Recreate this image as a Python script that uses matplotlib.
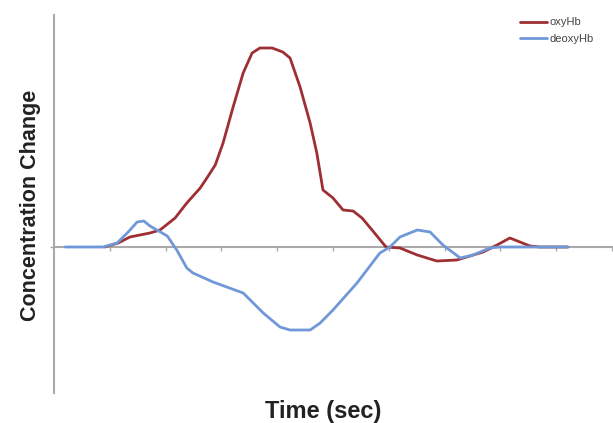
import matplotlib
matplotlib.use("Agg")
import matplotlib.pyplot as plt

plt.rcParams["font.family"] = ["Liberation Sans", "DejaVu Sans"]

# oxyHb trace (time, concentration change, arbitrary units)
oxy_t = [0.91, 1.15, 1.36, 1.72, 1.90, 2.17, 2.38, 2.62, 2.74, 2.89, 3.03, 3.21,
         3.39, 3.55, 3.69, 3.91, 4.10, 4.23, 4.41, 4.59, 4.71, 4.82, 5.00, 5.18,
         5.36, 5.52, 5.70, 5.95, 6.20, 6.51, 6.86, 7.22, 7.69, 7.94, 8.17, 8.53,
         8.71, 9.21]
oxy_v = [0, 4, 10, 14, 17, 29, 44, 59, 69, 82, 104, 140,
         174, 194, 199, 199, 195, 189, 160, 124, 94, 57, 49, 37,
         36, 29, 17, 0, -1, -8, -14, -13, -5, 2, 9, 1,
         0, 0]

# deoxyHb trace
deoxy_t = [0.20, 0.88, 1.13, 1.33, 1.49, 1.61, 1.72, 2.03, 2.20, 2.38, 2.49, 2.85,
           3.39, 3.75, 4.05, 4.23, 4.59, 4.77, 5.00, 5.43, 5.84, 6.02, 6.20, 6.51,
           6.74, 6.97, 7.28, 7.51, 7.81, 7.99, 9.21]
deoxy_v = [0, 0, 4, 15, 25, 26, 21, 11, -3, -21, -26, -35,
           -46, -66, -80, -83, -83, -76, -63, -36, -6, 0, 10, 17,
           15, 2, -11, -8, -1, 0, 0]

xticks = list(range(1, 11))

fig = plt.figure(figsize=(6.13, 4.23), dpi=100)
ax = fig.add_axes([54 / 613, 30 / 423, 558 / 613, 378 / 423])

ax.plot(oxy_t, oxy_v, color="#9e2f33", lw=2.0, label="oxyHb", zorder=3,
        solid_joinstyle="round", solid_capstyle="round")
ax.plot(deoxy_t, deoxy_v, color="#7098d8", lw=2.0, label="deoxyHb", zorder=3,
        solid_joinstyle="round", solid_capstyle="round")

ax.set_xlim(0, 10)
ax.set_ylim(-146, 232)

for s in ["top", "right"]:
    ax.spines[s].set_visible(False)
ax.spines["left"].set_color("#aaaaaa")
ax.spines["left"].set_linewidth(1.5)
ax.spines["bottom"].set_position(("data", 0))
ax.spines["bottom"].set_color("#aaaaaa")
ax.spines["bottom"].set_linewidth(1.5)

ax.set_xticks(xticks)
ax.set_xticklabels([])
ax.set_yticks([0])
ax.set_yticklabels([])
ax.tick_params(axis="x", direction="out", length=3, color="#aaaaaa", width=1)
ax.tick_params(axis="y", direction="out", length=3, color="#aaaaaa", width=1)

ax.legend(loc="upper right", bbox_to_anchor=(0.985, 1.02), frameon=False,
          fontsize=8, handlelength=2.4, handletextpad=0.25, labelspacing=0.55,
          labelcolor="#444444")

fig.text(0.528, 0.028, "Time (sec)", ha="center", va="center",
         fontsize=17, fontweight="bold", color="#222222")
fig.text(0.05, 0.515, "Concentration Change", ha="center", va="center",
         rotation=90, fontsize=15.5, fontweight="bold", color="#222222")

fig.savefig("out.png", dpi=100)
